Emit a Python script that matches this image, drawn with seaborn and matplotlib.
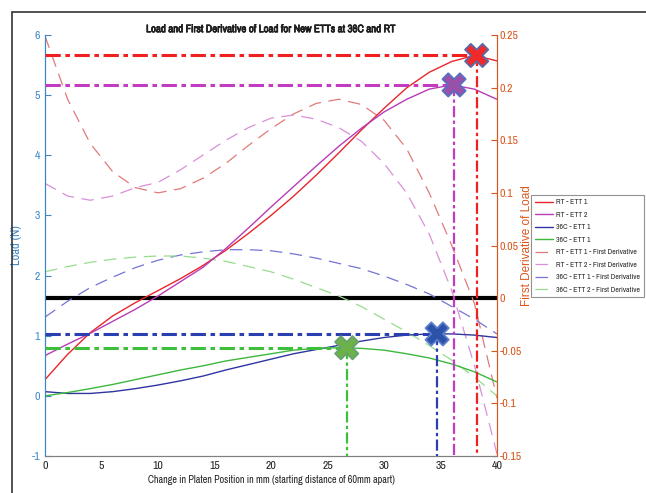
import numpy as np
import pandas as pd
import matplotlib
matplotlib.use('Agg')
import matplotlib.pyplot as plt
from matplotlib import font_manager
import matplotlib.patheffects as pe
from matplotlib.patches import Rectangle
import seaborn as sns

# platen position (mm)
x_mm = [0, 2, 4, 6, 8, 10, 12, 14, 16, 18, 20, 22, 24, 26, 28, 30, 32, 34, 36, 38, 40]

# load curves (N), left axis
rt_ett1 = [0.27, 0.69, 1.05, 1.33, 1.55, 1.75, 1.95, 2.17, 2.42, 2.70, 3.00, 3.32, 3.67, 4.04, 4.42, 4.78, 5.12, 5.38, 5.56, 5.66, 5.57]
rt_ett2 = [0.67, 0.86, 1.04, 1.24, 1.44, 1.66, 1.90, 2.14, 2.45, 2.79, 3.14, 3.48, 3.82, 4.15, 4.45, 4.72, 4.93, 5.10, 5.17, 5.10, 4.93]
c36_ett1 = [0.07, 0.04, 0.04, 0.07, 0.12, 0.18, 0.25, 0.33, 0.43, 0.52, 0.61, 0.70, 0.77, 0.84, 0.91, 0.97, 1.01, 1.03, 1.03, 1.01, 0.97]
c36_ett2 = [0.00, 0.055, 0.12, 0.19, 0.27, 0.35, 0.43, 0.50, 0.58, 0.64, 0.70, 0.76, 0.79, 0.80, 0.79, 0.76, 0.70, 0.63, 0.53, 0.40, 0.23]

# first derivative curves, right axis
d_rt_ett1 = [0.249, 0.189, 0.147, 0.120, 0.105, 0.100, 0.104, 0.114, 0.128, 0.145, 0.161, 0.175, 0.185, 0.189, 0.184, 0.169, 0.142, 0.100, 0.050, -0.005, -0.095]
d_rt_ett2 = [0.109, 0.097, 0.093, 0.097, 0.105, 0.110, 0.122, 0.136, 0.150, 0.162, 0.171, 0.174, 0.170, 0.162, 0.149, 0.128, 0.100, 0.061, 0.007, -0.064, -0.148]
d_c36_ett1 = [-0.018, -0.003, 0.010, 0.020, 0.029, 0.036, 0.041, 0.044, 0.046, 0.046, 0.045, 0.042, 0.038, 0.033, 0.028, 0.021, 0.013, 0.004, -0.008, -0.020, -0.034]
d_c36_ett2 = [0.025, 0.030, 0.034, 0.037, 0.039, 0.040, 0.040, 0.038, 0.035, 0.030, 0.025, 0.018, 0.010, 0.002, -0.008, -0.020, -0.032, -0.045, -0.059, -0.075, -0.093]

# peak markers (x, load)
peak_x = [38.2, 36.2, 34.7, 26.7]
peak_load = [5.66, 5.17, 1.03, 0.80]

labels = ['RT - ETT 1', 'RT - ETT 2', '36C - ETT 1', '36C - ETT 1',
          'RT - ETT 1 - First Derivative', 'RT - ETT 2 - First Derivative',
          '36C - ETT 1 - First Derivative', '36C - ETT 2 - First Derivative']

solid_colors = ['#e8262b', '#b83cb8', '#2e35a0', '#3db83d']
dash_colors = ['#e07a7a', '#d890d8', '#7474d4', '#96dc8c']
guide_colors = ['#f02020', '#c23cc2', '#2a3fb0', '#3cc03c']
x_face = ['#ee2a2a', '#9a50a8', '#2c52aa', '#6cb24a']
x_edge = ['#5a6aa8', '#5570c0', '#5b7fcc', '#6aa070']

sns.set_style('white')

# look for a narrow sans face (the original uses a condensed Helvetica look)
fonts = font_manager.fontManager.ttflist
narrow_family = None
narrow_stretch = 'normal'
for f in fonts:
    if 'Narrow' in f.name or 'Condensed' in f.name:
        narrow_family = f.name
        break
if narrow_family is None:
    for f in fonts:
        if f.name in ('DejaVu Sans', 'Liberation Sans', 'Roboto', 'Open Sans', 'Noto Sans') \
                and str(f.stretch) in ('condensed', 'semi-condensed', 'extra-condensed', '75', '87.5'):
            narrow_family = f.name
            narrow_stretch = 'condensed'
            break
if narrow_family is None:
    narrow_family = 'Liberation Sans'
    scale = 0.85
else:
    scale = 1.0

plt.rcParams['font.family'] = [narrow_family, 'DejaVu Sans']
plt.rcParams['font.stretch'] = narrow_stretch
plt.rcParams['axes.unicode_minus'] = False

fig = plt.figure(figsize=(6.46, 4.93), dpi=100)
ax1 = fig.add_axes([45 / 646, 1 - 456 / 493, (497 - 45) / 646, (456 - 35) / 493])
ax2 = ax1.twinx()

df = pd.DataFrame({'x': x_mm})
loads = [rt_ett1, rt_ett2, c36_ett1, c36_ett2]
derivs = [d_rt_ett1, d_rt_ett2, d_c36_ett1, d_c36_ett2]

handles = []
for i, vals in enumerate(loads):
    df['y'] = vals
    sns.lineplot(data=df, x='x', y='y', ax=ax1, color=solid_colors[i], linewidth=1.0)
    handles.append(ax1.lines[-1])

for i, vals in enumerate(derivs):
    df['y'] = vals
    sns.lineplot(data=df, x='x', y='y', ax=ax2, color=dash_colors[i], linewidth=0.9,
                 linestyle=(0, (10, 6)))
    handles.append(ax2.lines[-1])

# zero line of the derivative
ax2.axhline(0, color='black', linewidth=3, zorder=1)

# guide lines to peaks
for i in range(4):
    ax1.plot([0, peak_x[i]], [peak_load[i], peak_load[i]], color=guide_colors[i],
             linewidth=2.2, linestyle=(0, (5, 1.5, 1.5, 1.5)), zorder=3)
    ax1.plot([peak_x[i], peak_x[i]], [peak_load[i], -1], color=guide_colors[i],
             linewidth=1.6, linestyle=(0, (5, 1.5, 1.5, 1.5)), zorder=3)

ax1.set_zorder(ax2.get_zorder() + 1)
ax1.patch.set_visible(False)
ax1.scatter(peak_x, peak_load, marker='X', s=280, c=x_face, edgecolors=x_edge,
            linewidths=1.3, zorder=6, clip_on=False)

ax1.set_xlim(0, 40)
ax1.set_ylim(-1, 6)
ax2.set_ylim(-0.15, 0.25)
ax1.set_xticks(range(0, 41, 5))
ax1.set_yticks(range(-1, 7))
ax2.set_yticks([-0.15, -0.1, -0.05, 0, 0.05, 0.1, 0.15, 0.2, 0.25])
ax2.set_yticklabels(['-0.15', '-0.1', '-0.05', '0', '0.05', '0.1', '0.15', '0.2', '0.25'])

left_c = '#3d86c6'
right_c = '#d9561c'
for a in (ax1, ax2):
    a.spines['top'].set_visible(False)
    a.spines['bottom'].set_color('#808080')
    a.spines['left'].set_color(left_c)
    a.spines['right'].set_color(right_c)
    a.set_xlabel('')
    a.set_ylabel('')
ax1.tick_params(axis='x', direction='in', length=4, colors='#404040', labelsize=8.5 * scale, width=0.8)
ax1.tick_params(axis='y', direction='in', length=4, colors=left_c, labelsize=8.5 * scale, width=0.8)
ax2.tick_params(axis='y', direction='in', length=4, colors=right_c, labelsize=8.5 * scale, width=0.8, pad=2)
for t in ax1.get_xticklabels():
    t.set_color('#222222')

bold = [pe.withStroke(linewidth=0.5, foreground='black')]
ttl = ax1.set_title('Load and First Derivative of Load for New ETTs at 36C and RT',
                    fontsize=7.8 * scale, fontweight='bold', pad=2)
ttl.set_path_effects(bold)
ax1.set_xlabel('Change in Platen Position in mm (starting distance of 60mm apart)',
               fontsize=7.3 * scale, color='#222222', labelpad=3)
ax1.set_ylabel('Load (N)', fontsize=9 * scale, color=left_c)
ax1.yaxis.set_label_coords((22 - 45) / 452, 0.5)
ax2.set_ylabel('First Derivative of Load', fontsize=8.5, color=right_c,
               family=['Liberation Sans', 'DejaVu Sans'], stretch='normal')
ax2.yaxis.set_label_coords((521 - 45) / 452, 0.5)

leg = fig.legend(handles, labels, loc='upper left', bbox_to_anchor=(531 / 646, 1 - 195 / 493),
                 fontsize=5.6 * scale, frameon=True, fancybox=False, edgecolor='#777777',
                 handlelength=2.3, borderpad=0.5, labelspacing=0.78, handletextpad=0.45,
                 borderaxespad=0)
leg.get_frame().set_linewidth(0.8)

# outer frame of the image
fig.patches.append(Rectangle((12 / 646, -0.1), 1.2, 1 - 12 / 493 + 0.1, transform=fig.transFigure,
                             fill=False, edgecolor='#333333', linewidth=1.2))

fig.savefig('out.png', dpi=100)
